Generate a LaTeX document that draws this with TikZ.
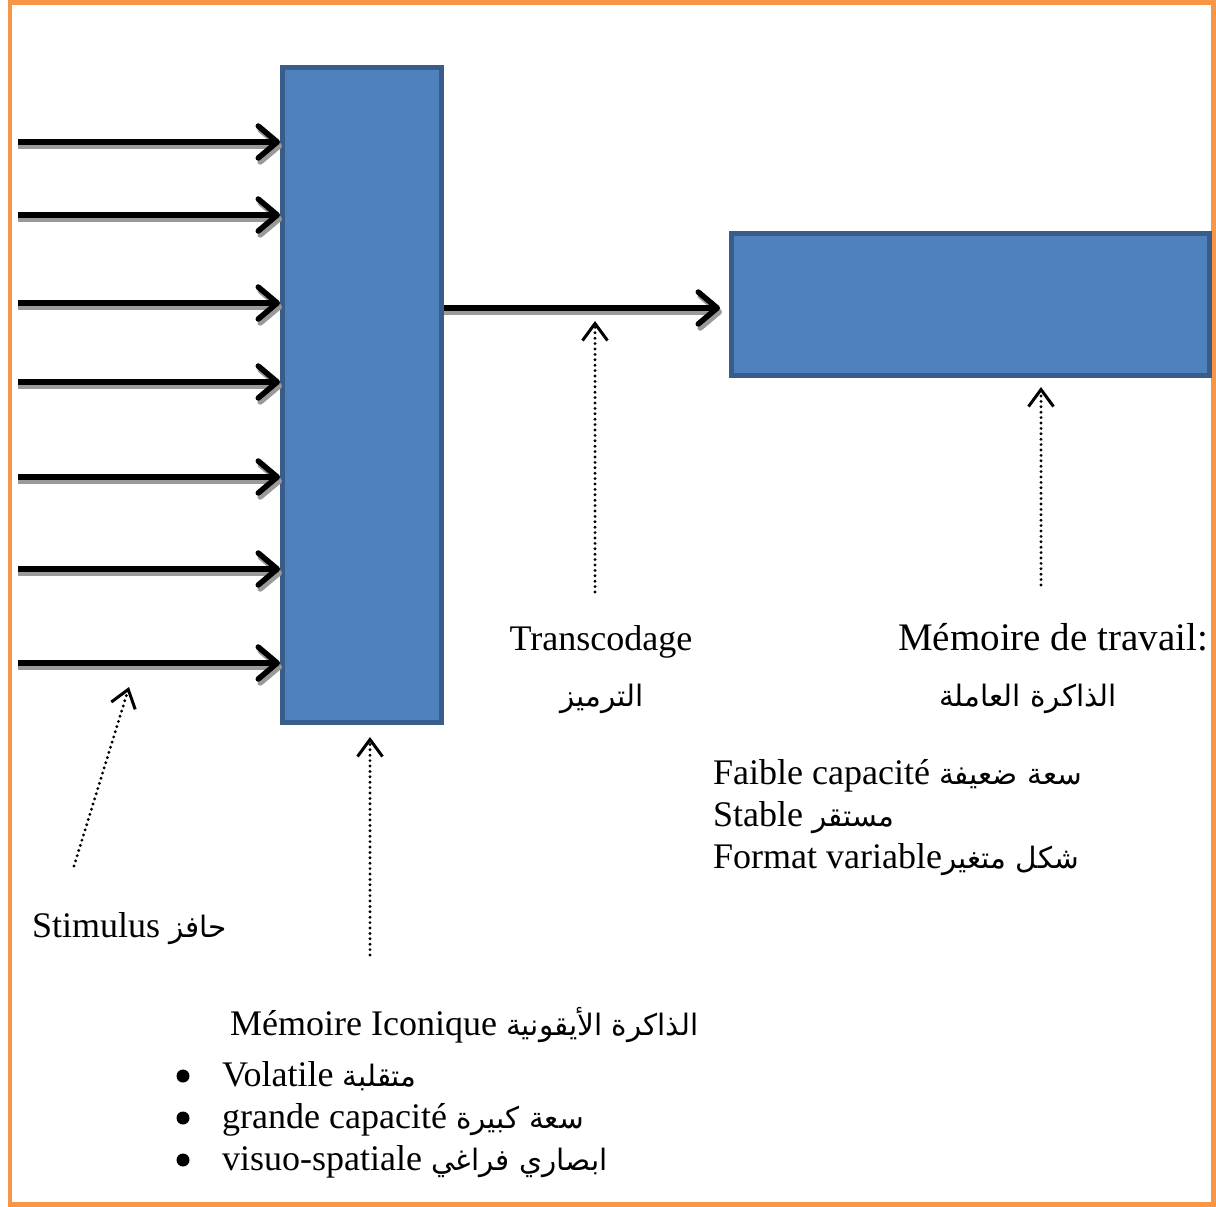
\documentclass[tikz,border=0pt]{standalone}
\usepackage{fontspec}
\setmainfont{Liberation Serif}
\newfontfamily\arabicfont[Script=Arabic,Scale=0.82]{DejaVu Sans}
\TeXXeTstate=1
\usetikzlibrary{arrows.meta}
\definecolor{blueFill}{HTML}{4F81BD}
\definecolor{blueEdge}{HTML}{385D8A}
\definecolor{orangeEdge}{HTML}{F79646}
\definecolor{shadowGray}{HTML}{9A9A9A}
\begin{document}
\begin{tikzpicture}[x=1pt,y=-1pt,
  every node/.style={font=\fontsize{36}{43}\selectfont, inner sep=0pt},
  box/.style={draw=blueEdge, fill=blueFill, line width=5pt, inner sep=0pt},
  bigarrow/.style={line width=5.5pt, line join=round,
     -{Straight Barb[length=19pt,width=32pt,round]}},
  bigshadow/.style={bigarrow, draw=shadowGray},
  dotarrow/.style={line width=3.2pt, line cap=round, dash pattern=on 0pt off 5.4pt,
     -{Straight Barb[length=17pt,width=25pt,line width=3pt]}},
  bulletdot/.style={circle, fill=black, minimum size=13pt, inner sep=0pt}
]
\useasboundingbox (0,0) rectangle (1216,1207);
% frame
\draw[orangeEdge, line width=4.5pt] (10,2.5) rectangle (1213.5,1204.5);

% boxes
\node[box, minimum width=159pt, minimum height=655pt] (icon) at (362,395) {};
\node[box, minimum width=478pt, minimum height=142pt] (wm) at (970.5,304.5) {};

% input arrows
\foreach \i/\yy in {1/142,2/215,3/303,4/382,5/477,6/569,7/663}{
  \coordinate (s\i) at (18,\yy);
  \coordinate (t\i) at (18,\yy+4);
  \draw[bigshadow] (t\i) -- ([xshift=2pt]t\i -| icon.west);
  \draw[bigarrow] (s\i) -- (s\i -| icon.west);
}

% middle arrow
\coordinate (m0) at (444,308);
\coordinate (m1) at (444,312);
\draw[bigshadow, shorten >=7pt] (m1) -- (m1 -| wm.west);
\draw[bigarrow, shorten >=9pt] (m0) -- (m0 -| wm.west);

% dotted pointer arrows
\coordinate (d1a) at (595,592); \coordinate (d1b) at (595,321);
\coordinate (d2a) at (1041,585); \coordinate (d2b) at (1041,387);
\coordinate (d3a) at (370,955); \coordinate (d3b) at (370,737);
\coordinate (d4a) at (74,866);  \coordinate (d4b) at (129,687);
\draw[dotarrow] (d1a) -- (d1b);
\draw[dotarrow] (d2a) -- (d2b);
\draw[dotarrow] (d3a) -- (d3b);
\draw[dotarrow] (d4a) -- (d4b);

% labels
\node[anchor=base] (trans) at (601,650) {Transcodage};
\node[anchor=base] (transar) at (602,706) {\arabicfont\beginR الترميز\endR};
\node[anchor=base west, font=\fontsize{39}{46}\selectfont] (wmlab) at (898,650) {Mémoire de travail:};
\node[anchor=base] (wmar) at (1028,706) {\arabicfont\beginR الذاكرة العاملة\endR};
\node[anchor=base west] (wm1) at (713,784) {Faible capacité {\arabicfont\beginR سعة ضعيفة\endR}};
\node[anchor=base west] (wm2) at (713,826) {Stable {\arabicfont\beginR مستقر\endR}};
\node[anchor=base west] (wm3) at (713,868) {Format variable{\arabicfont\beginR شكل متغير\endR}};
\node[anchor=base west] (stim) at (32,937) {Stimulus {\arabicfont\beginR حافز\endR}};
\node[anchor=base west] (iclab) at (230,1035) {Mémoire Iconique {\arabicfont\beginR الذاكرة الأيقونية\endR}};
\node[bulletdot] (b1) at (183,1076) {};
\node[bulletdot] (b2) at (183,1118) {};
\node[bulletdot] (b3) at (183,1160) {};
\node[anchor=base west] (ic1) at (222,1086) {Volatile {\arabicfont\beginR متقلبة\endR}};
\node[anchor=base west] (ic2) at (222,1128) {grande capacité {\arabicfont\beginR سعة كبيرة\endR}};
\node[anchor=base west] (ic3) at (222,1170) {visuo-spatiale {\arabicfont\beginR ابصاري فراغي\endR}};
\end{tikzpicture}
\end{document}
